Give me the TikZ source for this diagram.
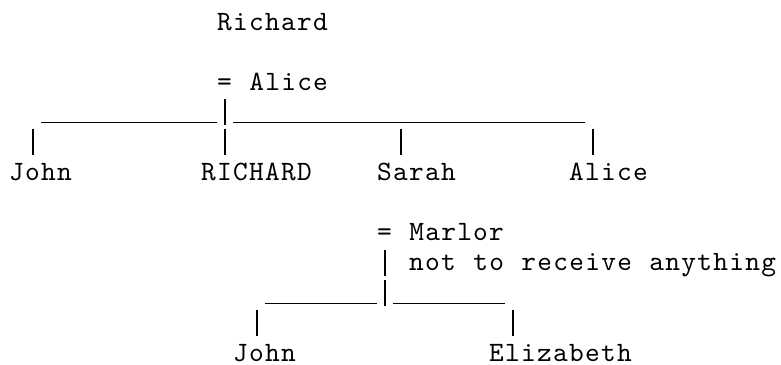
\documentclass[tikz,border=0pt]{standalone}
\usepackage{fontspec}
\newfontfamily\treefont[LetterSpace=4.6,WordSpace=1.088]{lmmono10-regular.otf}
\begin{document}
\begin{tikzpicture}[x=16pt,y=-30.1pt,
        person/.style={anchor=base west,inner sep=0pt,font=\treefont\fontsize{28}{30}\selectfont},
        line/.style={line width=1.3pt}]
    \useasboundingbox (-9pt,30pt) rectangle (772pt,-334pt);
    \node[person] (richard) at (13,0) {Richard};
    \node[person] (alice) at (13,2) {= Alice};
    \node[person] (john) at (0,5) {John};
    \node[person] (richardjr) at (12,5) {RICHARD};
    \node[person] (sarah) at (23,5) {Sarah};
    \node[person] (alicejr) at (35,5) {Alice};
    \node[person] (marlor) at (23,7) {= Marlor};
    \node[person] (note) at (25,8) {not to receive anything};
    \node[person] (john2) at (14,11) {John};
    \node[person] (elizabeth) at (30,11) {Elizabeth};
    \coordinate (fam1) at (13.5,3.08);
    \coordinate (fam2) at (23.5,9.08);
    \draw[line] ([shift={(8pt,-9pt)}]alice.base west) -- ++(0,0.86);
    \draw[line] (fam1) ++(-11.5,0) -- ++(11,0);
    \draw[line] (fam1) ++(0.5,0) -- ++(22,0);
    \foreach \n in {john,richardjr,sarah,alicejr}
        \draw[line] ([shift={(24pt,25.4pt)}]\n.base west) -- ++(0,-0.86);
    \draw[line] ([shift={(8pt,-9pt)}]marlor.base west) -- ++(0,0.86);
    \draw[line] ([shift={(8pt,-9pt)}]marlor.base west) ++(0,1) -- ++(0,0.86);
    \draw[line] (fam2) ++(-7.5,0) -- ++(7,0);
    \draw[line] (fam2) ++(0.5,0) -- ++(7,0);
    \foreach \n in {john2,elizabeth}
        \draw[line] ([shift={(24pt,25.4pt)}]\n.base west) -- ++(0,-0.86);
\end{tikzpicture}
\end{document}
